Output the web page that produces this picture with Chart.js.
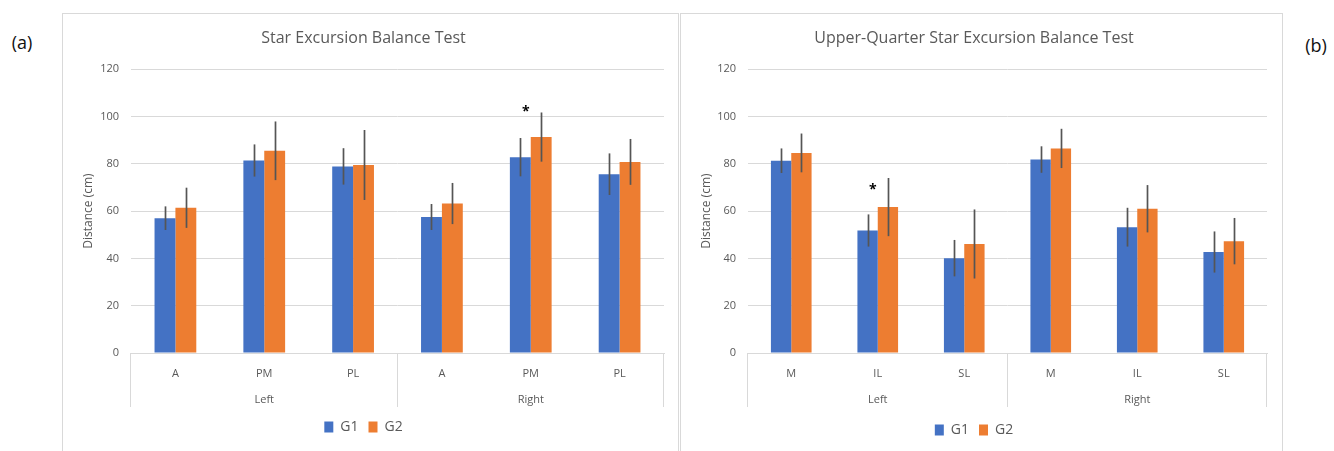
<!DOCTYPE html>
<html>
<head>
<meta charset="utf-8">
<title>Star Excursion Balance Test</title>
<script src="https://cdn.jsdelivr.net/npm/chart.js@4.4.1/dist/chart.umd.min.js"></script>
<style>
  html, body { margin: 0; padding: 0; background: #fff; width: 1334px; height: 451px; overflow: hidden; }
  body { position: relative; font-family: "Open Sans", sans-serif; }
  .frame { position: absolute; top: 13px; height: 460px; border: 1px solid #d9d9d9; box-sizing: border-box; }
  #frameA { left: 62px; width: 617px; }
  #frameB { left: 680px; width: 603px; }
  canvas { position: absolute; }
  #chartA { left: 63px; top: 14px; }
  #chartB { left: 681px; top: 14px; }
  .tag { position: absolute; font-size: 18px; color: #111; transform: translate(-50%, -50%); white-space: nowrap; }
</style>
</head>
<body>
<div class="frame" id="frameA"></div>
<div class="frame" id="frameB"></div>
<canvas id="chartA" width="615" height="437"></canvas>
<canvas id="chartB" width="601" height="437"></canvas>
<div class="tag" style="left:22px; top:42px;">(a)</div>
<div class="tag" style="left:1316px; top:45px;">(b)</div>

<script>
// ---- Data -------------------------------------------------------------
const seriesNames = ['G1', 'G2'];
const seriesColors = ['#4472C4', '#ED7D31'];
const yMax = 120;
const yStep = 20;

// Star Excursion Balance Test: reach distance (cm), mean and SD
const sebtDirections = ['A', 'PM', 'PL', 'A', 'PM', 'PL'];
const sebtSides = ['Left', 'Right'];
const sebtG1 = [57.0, 81.4, 78.9, 57.5, 82.8, 75.6];
const sebtG1Sd = [5.0, 6.8, 7.7, 5.5, 8.1, 8.8];
const sebtG2 = [61.4, 85.5, 79.5, 63.2, 91.3, 80.8];
const sebtG2Sd = [8.5, 12.4, 14.8, 8.7, 10.4, 9.7];
const sebtSignificance = [null, null, null, null, 103.8, null];

// Upper-Quarter Star Excursion Balance Test: reach distance (cm), mean and SD
const uqDirections = ['M', 'IL', 'SL', 'M', 'IL', 'SL'];
const uqSides = ['Left', 'Right'];
const uqG1 = [81.3, 51.8, 40.1, 81.8, 53.2, 42.7];
const uqG1Sd = [5.2, 6.8, 7.7, 5.6, 8.2, 8.7];
const uqG2 = [84.6, 61.7, 46.1, 86.5, 61.0, 47.3];
const uqG2Sd = [8.2, 12.3, 14.6, 8.3, 10.0, 9.8];
const uqSignificance = [null, 70.7, null, null, null, null];

// ---- Plugins ------------------------------------------------------------
const TEXT_GREY = '#595959';
const LINE_GREY = '#d9d9d9';
Chart.defaults.font.family = '"Open Sans", sans-serif';
Chart.defaults.color = TEXT_GREY;

// Vertical SD whiskers through the centre of each bar
const errorBarsPlugin = {
  id: 'errorBars',
  afterDatasetsDraw(chart, args, opts) {
    const { ctx } = chart;
    const y = chart.scales.y;
    ctx.save();
    ctx.strokeStyle = opts.color;
    ctx.lineWidth = opts.width;
    chart.data.datasets.forEach((ds, i) => {
      const sd = opts.sd[i];
      chart.getDatasetMeta(i).data.forEach((bar, j) => {
        const v = ds.data[j];
        const x = Math.round(bar.x) + 0.5;
        ctx.beginPath();
        ctx.moveTo(x, y.getPixelForValue(v + sd[j]));
        ctx.lineTo(x, y.getPixelForValue(v - sd[j]));
        ctx.stroke();
      });
    });
    ctx.restore();
  }
};

// Asterisk marking a significant difference between groups
const significancePlugin = {
  id: 'significance',
  afterDatasetsDraw(chart, args, opts) {
    const { ctx } = chart;
    const y = chart.scales.y;
    const m0 = chart.getDatasetMeta(0);
    const m1 = chart.getDatasetMeta(1);
    ctx.save();
    ctx.fillStyle = '#000';
    ctx.font = 'bold 14px "Open Sans", sans-serif';
    ctx.textAlign = 'center';
    ctx.textBaseline = 'alphabetic';
    opts.levels.forEach((level, j) => {
      if (level == null) return;
      const b0 = m0.data[j], b1 = m1.data[j];
      const x = b0.x + (b1.x - b0.x) * 0.26;
      ctx.fillText('*', x, y.getPixelForValue(level) + 8);
    });
    ctx.restore();
  }
};

// Second level of the category axis: side groups with separators
const sideGroupsPlugin = {
  id: 'sideGroups',
  afterDraw(chart, args, opts) {
    const { ctx, chartArea } = chart;
    const x = chart.scales.x;
    const n = chart.data.labels.length;
    const per = n / opts.sides.length;
    const bottom = chartArea.bottom;
    const edges = [];
    ctx.save();
    ctx.strokeStyle = LINE_GREY;
    ctx.lineWidth = 1;
    for (let g = 0; g <= opts.sides.length; g++) {
      const idx = g * per;
      let px;
      if (idx === 0) px = chartArea.left;
      else if (idx === n) px = chartArea.right;
      else px = (x.getPixelForValue(idx - 1) + x.getPixelForValue(idx)) / 2;
      edges.push(px);
      const ax = Math.round(px) - 0.5;
      ctx.beginPath();
      ctx.moveTo(ax, bottom);
      ctx.lineTo(ax, bottom + opts.lineLength);
      ctx.stroke();
    }
    ctx.fillStyle = TEXT_GREY;
    ctx.font = '11px "Open Sans", sans-serif';
    ctx.textAlign = 'center';
    ctx.textBaseline = 'middle';
    opts.sides.forEach((s, g) => {
      ctx.fillText(s, (edges[g] + edges[g + 1]) / 2, bottom + opts.labelOffset);
    });
    ctx.restore();
  }
};

// ---- Chart builder ------------------------------------------------------
function buildChart(canvasId, cfg) {
  const datasets = [cfg.g1, cfg.g2].map((vals, i) => ({
    label: seriesNames[i],
    data: vals,
    backgroundColor: seriesColors[i],
    borderWidth: 0,
    categoryPercentage: 0.47,
    barPercentage: 1.0
  }));
  return new Chart(document.getElementById(canvasId), {
    type: 'bar',
    data: { labels: cfg.labels, datasets },
    plugins: [errorBarsPlugin, significancePlugin, sideGroupsPlugin],
    options: {
      responsive: false,
      animation: false,
      devicePixelRatio: 1,
      layout: { padding: { left: 0, right: cfg.padRight, top: 0, bottom: cfg.padBottom } },
      plugins: {
        tooltip: { enabled: false },
        title: {
          display: true,
          text: cfg.title,
          color: TEXT_GREY,
          font: { size: 16, weight: 'normal' },
          padding: { top: 15, bottom: 21 }
        },
        legend: {
          position: 'bottom',
          labels: {
            boxWidth: 9,
            boxHeight: 11,
            color: TEXT_GREY,
            font: { size: 14 },
            padding: 10
          }
        },
        errorBars: { sd: [cfg.g1Sd, cfg.g2Sd], color: '#555555', width: 1.7 },
        significance: { levels: cfg.stars },
        sideGroups: { sides: cfg.sides, lineLength: 54, labelOffset: 47 }
      },
      scales: {
        x: {
          grid: { display: false },
          border: { display: true, color: LINE_GREY },
          ticks: { color: TEXT_GREY, font: { size: 11 }, padding: 6, maxRotation: 0 },
          afterFit(scale) { scale.height = cfg.xAxisHeight; }
        },
        y: {
          min: 0,
          max: yMax,
          ticks: { stepSize: yStep, color: TEXT_GREY, font: { size: 11 }, padding: 12 },
          grid: { color: LINE_GREY, drawTicks: false },
          border: { display: false },
          title: {
            display: true,
            text: 'Distance (cm)',
            color: TEXT_GREY,
            font: { size: 12 },
            padding: { top: 18, bottom: 0 }
          },
          afterFit(scale) { scale.width = cfg.yAxisWidth; }
        }
      }
    }
  });
}

buildChart('chartA', {
  title: 'Star Excursion Balance Test',
  labels: sebtDirections, sides: sebtSides,
  g1: sebtG1, g1Sd: sebtG1Sd, g2: sebtG2, g2Sd: sebtG2Sd,
  stars: sebtSignificance,
  yAxisWidth: 68, padRight: 14, xAxisHeight: 57, padBottom: 7
});

buildChart('chartB', {
  title: 'Upper-Quarter Star Excursion Balance Test',
  labels: uqDirections, sides: uqSides,
  g1: uqG1, g1Sd: uqG1Sd, g2: uqG2, g2Sd: uqG2Sd,
  stars: uqSignificance,
  yAxisWidth: 67, padRight: 15, xAxisHeight: 60, padBottom: 4
});
</script>
</body>
</html>
